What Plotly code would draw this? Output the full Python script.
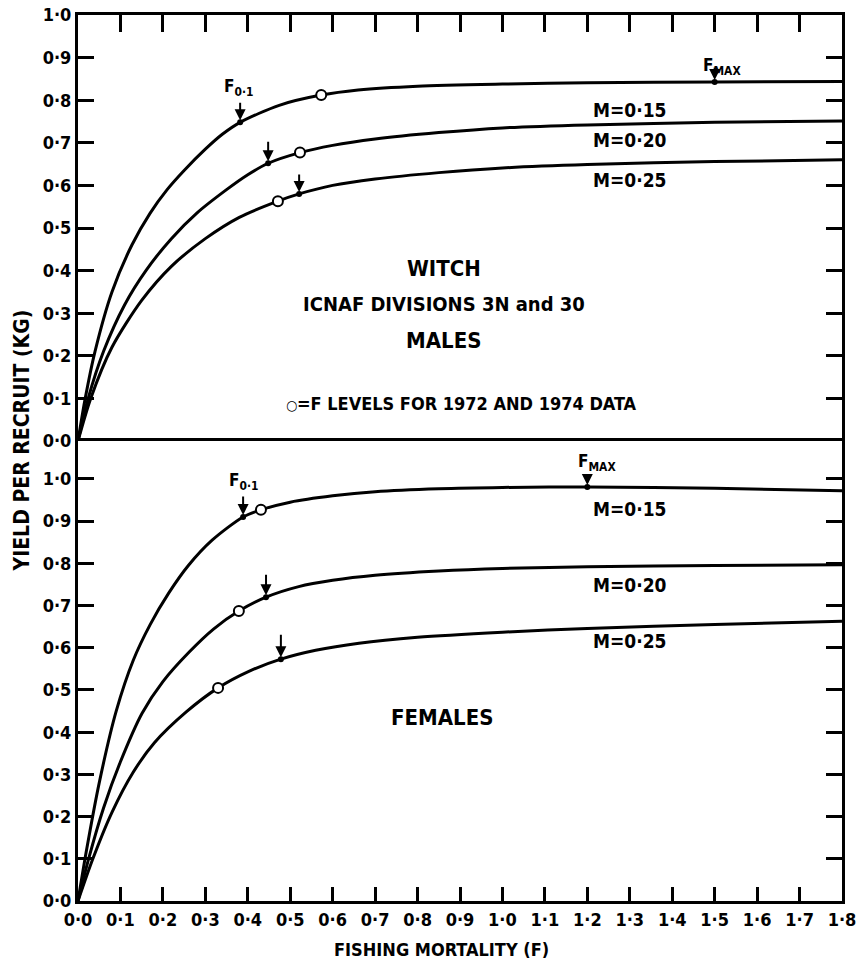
import plotly.graph_objects as go
from plotly.subplots import make_subplots

# ---------------- data ----------------
# Top panel: MALES (yield per recruit, kg) vs fishing mortality F
male_F_015 = [0, 0.017, 0.04, 0.08, 0.127, 0.17, 0.21, 0.25, 0.30, 0.34, 0.382, 0.474, 0.573, 0.66, 0.8, 1.0, 1.2, 1.5, 1.8]
male_Y_015 = [0, 0.10, 0.21, 0.35, 0.46, 0.535, 0.59, 0.635, 0.685, 0.72, 0.748, 0.788, 0.812, 0.824, 0.833, 0.838, 0.841, 0.843, 0.844]
male_F_020 = [0, 0.024, 0.06, 0.11, 0.16, 0.22, 0.28, 0.35, 0.40, 0.448, 0.523, 0.6, 0.7, 0.85, 1.0, 1.2, 1.5, 1.8]
male_Y_020 = [0, 0.10, 0.21, 0.32, 0.40, 0.475, 0.535, 0.59, 0.625, 0.652, 0.677, 0.694, 0.709, 0.724, 0.735, 0.742, 0.748, 0.751]
male_F_025 = [0, 0.03, 0.08, 0.15, 0.22, 0.30, 0.38, 0.471, 0.521, 0.6, 0.7, 0.85, 1.0, 1.2, 1.5, 1.8]
male_Y_025 = [0, 0.10, 0.22, 0.33, 0.41, 0.475, 0.525, 0.563, 0.580, 0.600, 0.615, 0.630, 0.641, 0.649, 0.656, 0.660]

# Bottom panel: FEMALES
fem_F_015 = [0, 0.02, 0.05, 0.09, 0.13, 0.17, 0.214, 0.26, 0.316, 0.389, 0.431, 0.5, 0.6, 0.7, 0.85, 1.0, 1.2, 1.5, 1.8]
fem_Y_015 = [0, 0.12, 0.28, 0.45, 0.57, 0.655, 0.73, 0.795, 0.855, 0.910, 0.927, 0.945, 0.960, 0.970, 0.977, 0.980, 0.981, 0.978, 0.972]
fem_F_020 = [0, 0.025, 0.06, 0.10, 0.151, 0.20, 0.262, 0.32, 0.379, 0.443, 0.52, 0.6, 0.7, 0.85, 1.0, 1.2, 1.5, 1.8]
fem_Y_020 = [0, 0.10, 0.22, 0.33, 0.445, 0.52, 0.590, 0.645, 0.687, 0.720, 0.745, 0.760, 0.772, 0.782, 0.788, 0.792, 0.795, 0.797]
fem_F_025 = [0, 0.035, 0.08, 0.13, 0.18, 0.255, 0.33, 0.40, 0.478, 0.56, 0.662, 0.8, 1.0, 1.2, 1.5, 1.8]
fem_Y_025 = [0, 0.10, 0.21, 0.305, 0.375, 0.448, 0.505, 0.543, 0.573, 0.594, 0.611, 0.625, 0.637, 0.646, 0.655, 0.663]

# F levels for 1972 and 1974 data (open circles)
male_open_F = [0.573, 0.523, 0.471]
male_open_Y = [0.812, 0.677, 0.563]
fem_open_F = [0.431, 0.379, 0.33]
fem_open_Y = [0.927, 0.687, 0.505]

# F0.1 / Fmax reference points (arrows): M=0.15 F0.1, M=0.20 F0.1, M=0.25 F0.1, Fmax
male_ref_F = [0.382, 0.448, 0.521, 1.5]
male_ref_Y = [0.748, 0.652, 0.580, 0.843]
fem_ref_F = [0.389, 0.443, 0.478, 1.2]
fem_ref_Y = [0.910, 0.720, 0.573, 0.981]

x_ticks = [i / 10 for i in range(19)]
x_ticklabels = [f"{v:.1f}".replace(".", "·") for v in x_ticks]
y_ticks = [i / 10 for i in range(11)]
y_ticklabels = [f"{v:.1f}".replace(".", "·") for v in y_ticks]

m_labels = ["M=0·15", "M=0·20", "M=0·25"]

# ---------------- figure ----------------
FONT = "DejaVu Sans Condensed, DejaVu Sans"
split = 460 / 886

fig = make_subplots(rows=2, cols=1, shared_xaxes=False, vertical_spacing=0)

line_style = dict(color="black", width=3, shape="spline", smoothing=0.8)

for F, Y in [(male_F_015, male_Y_015), (male_F_020, male_Y_020), (male_F_025, male_Y_025)]:
    fig.add_trace(go.Scatter(x=F, y=Y, mode="lines", line=line_style, hoverinfo="skip"), row=1, col=1)
for F, Y in [(fem_F_015, fem_Y_015), (fem_F_020, fem_Y_020), (fem_F_025, fem_Y_025)]:
    fig.add_trace(go.Scatter(x=F, y=Y, mode="lines", line=line_style, hoverinfo="skip"), row=2, col=1)

# reference points (small filled dots)
fig.add_trace(go.Scatter(x=male_ref_F, y=male_ref_Y, mode="markers",
                         marker=dict(color="black", size=6)), row=1, col=1)
fig.add_trace(go.Scatter(x=fem_ref_F, y=fem_ref_Y, mode="markers",
                         marker=dict(color="black", size=6)), row=2, col=1)

# open circles
oc = dict(symbol="circle", color="white", size=10, line=dict(color="black", width=2))
fig.add_trace(go.Scatter(x=male_open_F, y=male_open_Y, mode="markers", marker=oc), row=1, col=1)
fig.add_trace(go.Scatter(x=fem_open_F, y=fem_open_Y, mode="markers", marker=oc), row=2, col=1)

tickfont = dict(family=FONT, size=18, color="black", weight="bold")

common_x = dict(range=[0, 1.8], tickvals=x_ticks, ticktext=x_ticklabels, ticks="inside",
                ticklen=15, tickwidth=2.5, tickcolor="black", showline=True, linewidth=3,
                linecolor="black", showgrid=False, zeroline=False, tickfont=tickfont,
                ticklabeloverflow="allow")
common_y = dict(tickvals=y_ticks, ticktext=y_ticklabels, ticks="inside", ticklen=16,
                tickwidth=2.5, tickcolor="black", showline=True, linewidth=3, linecolor="black",
                showgrid=False, zeroline=False, mirror="ticks", tickfont=tickfont,
                ticklabeloverflow="allow")

fig.update_layout(
    width=863, height=966,
    margin=dict(l=78, r=21, t=15, b=65, autoexpand=False),
    plot_bgcolor="white", paper_bgcolor="white",
    showlegend=False,
    font=dict(family=FONT, color="black"),
    xaxis=dict(common_x, domain=[0, 1], side="top", showticklabels=False, anchor="y",
               ticklen=17, mirror=False),
    yaxis=dict(common_y, domain=[split, 1], range=[0, 1.0]),
    xaxis2=dict(common_x, domain=[0, 1], side="bottom", anchor="y2", ticklen=14, mirror=True),
    yaxis2=dict(common_y, domain=[0, split], range=[0, 1.09], anchor="x2"),
)

ann = []
tf = dict(family=FONT, size=19, color="black", weight="bold")
big = dict(family=FONT, size=22, color="black", weight="bold")
mid = dict(family=FONT, size=20, color="black", weight="bold")
subf = dict(family=FONT, size=17, color="black", weight="bold")
C = dict(showarrow=False, xanchor="center", yanchor="middle")

# M labels
for txt, y in zip(m_labels, [0.777, 0.707, 0.613]):
    ann.append(dict(C, x=1.30, y=y, xref="x", yref="y", text=txt, font=tf))
for txt, y in zip(m_labels, [0.929, 0.749, 0.616]):
    ann.append(dict(C, x=1.30, y=y, xref="x2", yref="y2", text=txt, font=tf))

# centre texts
ann.append(dict(C, x=0.862, y=0.406, xref="x", yref="y", text="WITCH", font=big))
ann.append(dict(C, x=0.862, y=0.322, xref="x", yref="y", text="ICNAF DIVISIONS 3N and 30", font=mid))
ann.append(dict(C, x=0.862, y=0.237, xref="x", yref="y", text="MALES", font=big))
ann.append(dict(C, x=0.903, y=0.087, xref="x", yref="y",
                text="<span style='font-size:14px;color:black'>○</span>=F LEVELS FOR 1972 AND 1974 DATA",
                font=dict(family=FONT, size=18, color="black", weight="bold")))
ann.append(dict(C, x=0.858, y=0.436, xref="x2", yref="y2", text="FEMALES", font=big))

# F0.1 / Fmax labels
ann.append(dict(C, x=0.379, y=0.829, xref="x", yref="y", text="F<sub>0·1</sub>", font=subf))
ann.append(dict(C, x=1.517, y=0.878, xref="x", yref="y", text="F<sub>MAX</sub>", font=subf))
ann.append(dict(C, x=0.389, y=0.995, xref="x2", yref="y2", text="F<sub>0·1</sub>", font=subf))
ann.append(dict(C, x=1.223, y=1.038, xref="x2", yref="y2", text="F<sub>MAX</sub>", font=subf))

# vertical arrows
arrow = dict(showarrow=True, arrowhead=2, arrowsize=1.1, arrowwidth=2, arrowcolor="black",
             standoff=2, text="", ax=0)
for F, Y, L in zip(male_ref_F, male_ref_Y, [-21, -23, -21, -16]):
    ann.append(dict(arrow, x=F, y=Y, xref="x", yref="y", ay=L))
for F, Y, L in zip(fem_ref_F, fem_ref_Y, [-22, -24, -26, -13]):
    ann.append(dict(arrow, x=F, y=Y, xref="x2", yref="y2", ay=L))

# axis titles
ann.append(dict(C, x=0.476, y=-0.0553, xref="paper", yref="paper", text="FISHING MORTALITY (F)",
                font=dict(family=FONT, size=18, color="black", weight="bold")))
ann.append(dict(C, x=-0.073, y=0.520, xref="paper", yref="paper", text="YIELD PER RECRUIT (KG)",
                textangle=-90, font=dict(family=FONT, size=21, color="black", weight="bold")))

fig.update_layout(annotations=ann)

# remove the default 8px page margin so the figure fills the 863x966 window exactly
fig.write_html("out.html",
               config={"displayModeBar": False},
               post_script="document.body.style.margin='0px'; document.body.style.overflow='hidden';")
